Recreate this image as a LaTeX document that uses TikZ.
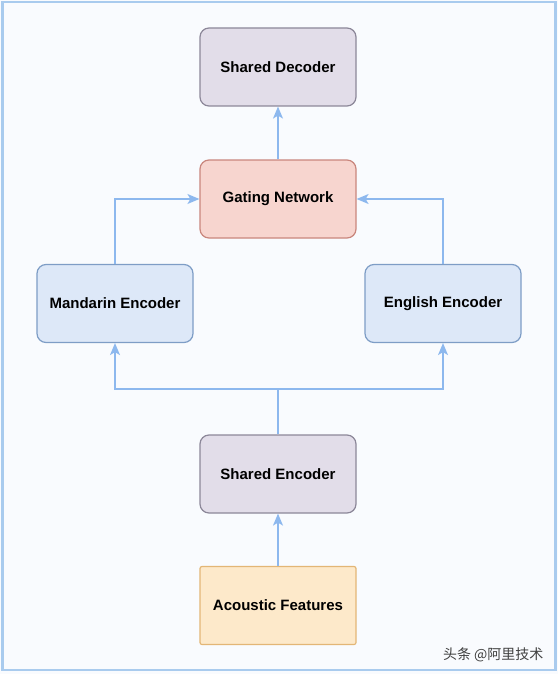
\documentclass[tikz,border=0pt]{standalone}
\usepackage{fontspec}
\setmainfont{Liberation Sans}
\newfontfamily\cjkfont{Noto Sans CJK SC}
\usetikzlibrary{arrows.meta}
\definecolor{framec}{HTML}{A9CBEE}
\definecolor{bgc}{HTML}{F9FBFE}
\definecolor{arrowc}{HTML}{8DB8EE}
\definecolor{purfill}{HTML}{E2DDE9}
\definecolor{purdraw}{HTML}{8C8799}
\definecolor{redfill}{HTML}{F7D5CF}
\definecolor{reddraw}{HTML}{C9867D}
\definecolor{bluefill}{HTML}{DDE8F8}
\definecolor{bluedraw}{HTML}{7E9DC6}
\definecolor{orfill}{HTML}{FDE9CA}
\definecolor{ordraw}{HTML}{E3B676}
\begin{document}
\begin{tikzpicture}[x=1pt,y=-1pt,
  box/.style={draw, line width=1.2pt, rounded corners=9pt, minimum width=156pt, minimum height=78pt,
    font=\fontsize{15}{17}\selectfont\bfseries, text=black, inner sep=0pt},
  purbox/.style={box, fill=purfill, draw=purdraw},
  redbox/.style={box, fill=redfill, draw=reddraw},
  bluebox/.style={box, fill=bluefill, draw=bluedraw},
  orbox/.style={box, fill=orfill, draw=ordraw, rounded corners=2pt},
  conn/.style={draw=arrowc, line width=1.3pt},
  arr/.style={conn, -{Stealth[width=10pt,length=12pt,inset=3pt]}}]
\useasboundingbox (0,0) rectangle (558,674);
\fill[bgc] (0,0) rectangle (558,674);
\draw[framec, line width=2.5pt] (2.5,2) rectangle (555.5,670);
\node[purbox] (dec) at (278,67) {Shared Decoder};
\node[redbox] (gate) at (278,199) {Gating Network};
\node[bluebox] (man) at (115,303.5) {Mandarin Encoder};
\node[bluebox] (eng) at (443,303.5) {English Encoder};
\node[purbox] (senc) at (278,474) {Shared Encoder};
\node[orbox] (ac) at (278,605.5) {Acoustic Features};
\coordinate (split) at (278,389);
\draw[arr] (gate.north) -- (dec.south);
\draw[arr] (man.north) |- (gate.west);
\draw[arr] (eng.north) |- (gate.east);
\draw[conn] (senc.north) -- (split);
\draw[arr] (split) -| (man.south);
\draw[arr] (split) -| (eng.south);
\draw[arr] (ac.north) -- (senc.south);
\node[font=\cjkfont\fontsize{14}{16}\selectfont, text=black!75, anchor=east] (wm) at (547,655) {头条 @阿里技术};
\end{tikzpicture}
\end{document}
